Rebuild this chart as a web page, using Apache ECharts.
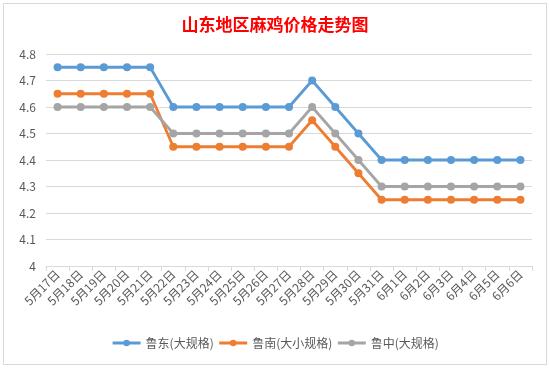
<!DOCTYPE html>
<html><head><meta charset="utf-8">
<script src="https://cdn.jsdelivr.net/npm/echarts@6/dist/echarts.min.js"></script>
<style>
html,body{margin:0;padding:0;background:#fff;}
#c{position:absolute;left:3px;top:3px;width:544px;height:362px;border:1px solid #d9d9d9;box-sizing:border-box;}
</style></head>
<body><div id="c"></div>
<script>
const categories = ['5月17日','5月18日','5月19日','5月20日','5月21日','5月22日','5月23日','5月24日','5月25日','5月26日','5月27日','5月28日','5月29日','5月30日','5月31日','6月1日','6月2日','6月3日','6月4日','6月5日','6月6日'];
const ludong = [4.75,4.75,4.75,4.75,4.75,4.6,4.6,4.6,4.6,4.6,4.6,4.7,4.6,4.5,4.4,4.4,4.4,4.4,4.4,4.4,4.4];
const lunan = [4.65,4.65,4.65,4.65,4.65,4.45,4.45,4.45,4.45,4.45,4.45,4.55,4.45,4.35,4.25,4.25,4.25,4.25,4.25,4.25,4.25];
const luzhong = [4.6,4.6,4.6,4.6,4.6,4.5,4.5,4.5,4.5,4.5,4.5,4.6,4.5,4.4,4.3,4.3,4.3,4.3,4.3,4.3,4.3];
const seriesNames = ['鲁东(大规格)','鲁南(大小规格)','鲁中(大规格)'];
const colors = ['#5B9BD5','#ED7D31','#A5A5A5'];
const chart = echarts.init(document.getElementById('c'));
const font = '"Microsoft YaHei","Noto Sans CJK SC",sans-serif';
function mk(name,data,color){
  return {name:name,type:'line',data:data,symbol:'circle',symbolSize:8,
    lineStyle:{width:2.8,color:color},itemStyle:{color:color},animation:false};
}
chart.setOption({
  animation:false,
  title:{text:'山东地区麻鸡价格走势图',left:'center',top:7,
    textStyle:{color:'#FF0000',fontSize:17,fontWeight:'bold',fontFamily:font}},
  grid:{left:42,right:14,top:50,bottom:98},
  legend:{bottom:10,left:'center',itemWidth:28,itemHeight:8,itemGap:4,
    lineStyle:{width:3},
    textStyle:{color:'#595959',fontSize:12,fontFamily:font},
    data:seriesNames},
  xAxis:{type:'category',data:categories,boundaryGap:true,
    axisLine:{lineStyle:{color:'#d9d9d9'}},
    axisTick:{show:true,alignWithLabel:false,length:5,lineStyle:{color:'#d9d9d9'}},
    axisLabel:{rotate:45,interval:0,color:'#595959',fontSize:12,fontFamily:font,margin:6}},
  yAxis:{type:'value',min:4,max:4.8,interval:0.1,
    axisLine:{show:false},axisTick:{show:false},
    splitLine:{lineStyle:{color:'#d9d9d9'}},
    axisLabel:{color:'#595959',fontSize:12,fontFamily:font,margin:10,
      formatter:v=>(Math.round(v*10)/10).toString()}},
  series:[mk(seriesNames[0],ludong,colors[0]),mk(seriesNames[1],lunan,colors[1]),mk(seriesNames[2],luzhong,colors[2])]
});
</script></body></html>
